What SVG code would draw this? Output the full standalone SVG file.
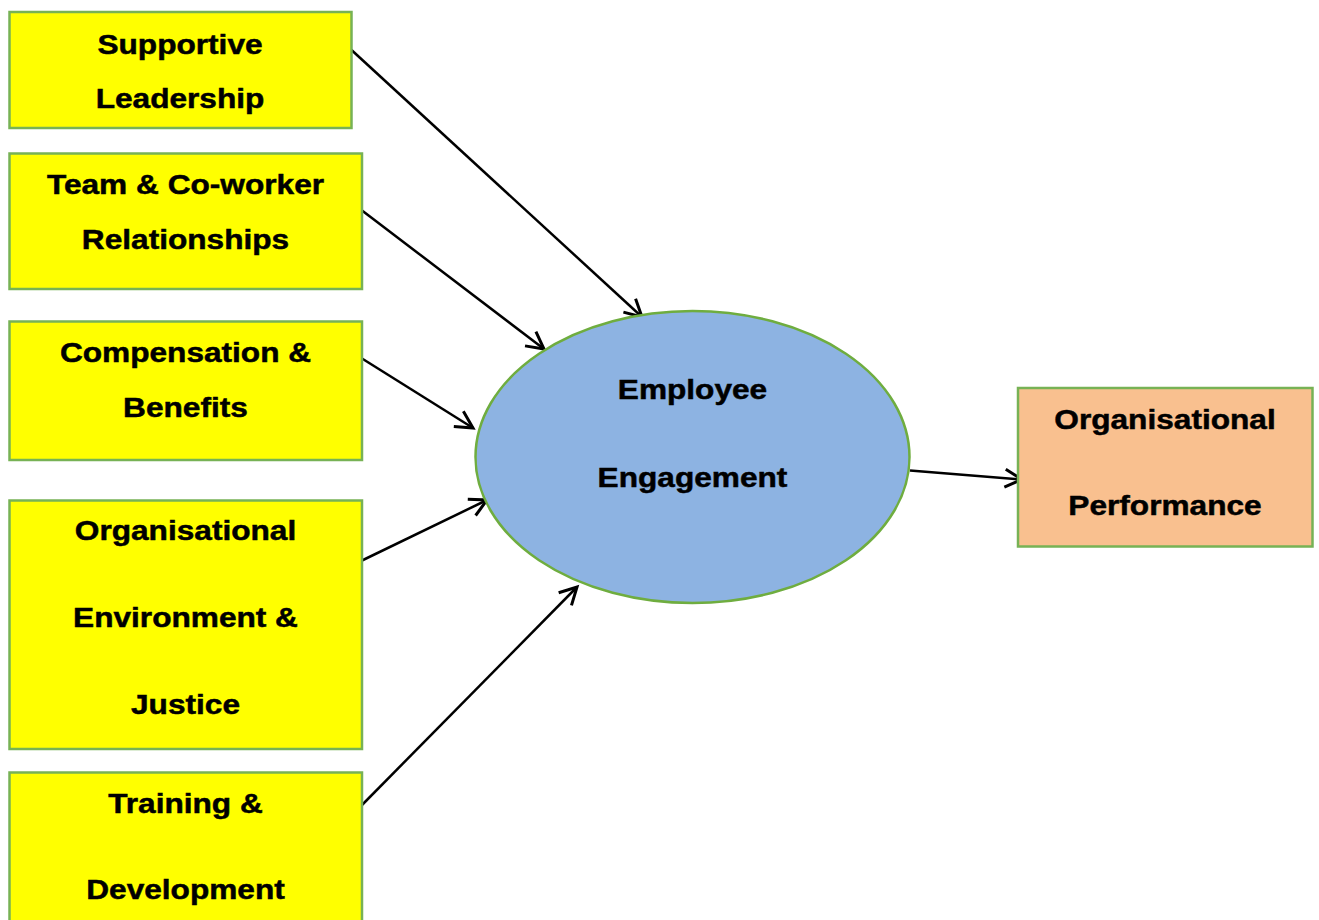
<svg xmlns="http://www.w3.org/2000/svg" width="1319" height="920" viewBox="0 0 1319 920">
  <style>
    .box { fill: #FFFF00; stroke: #77B255; stroke-width: 2.5; }
    .out { fill: #F9C08F; stroke: #77B255; stroke-width: 2.5; }
    .hub { fill: #8DB3E2; stroke: #6FAD3F; stroke-width: 2.5; }
    .lbl { font-family: "Liberation Sans", Arial, sans-serif; font-weight: bold; font-size: 28px; fill: #000; text-anchor: middle; stroke: #000; stroke-width: 0.5px; }
    .link { stroke: #000; stroke-width: 2.5; fill: none; marker-end: url(#head); }
  </style>
  <defs>
    <!-- open V arrowhead, tip at the line end -->
    <marker id="head" markerUnits="userSpaceOnUse" viewBox="0 0 24 24" markerWidth="24" markerHeight="24" refX="20" refY="12" orient="auto">
      <path d="M3,3 L20,12 L3,21" fill="none" stroke="#000" stroke-width="3" stroke-linejoin="miter"/>
    </marker>
  </defs>
  <rect width="1319" height="920" fill="#fff"/>

  <g id="connectors">
    <line class="link" x1="351.5" y1="50" x2="642" y2="317"/>
    <line class="link" x1="362" y1="210.5" x2="544" y2="349"/>
    <line class="link" x1="362" y1="358.5" x2="473" y2="428"/>
    <line class="link" x1="362" y1="560.5" x2="487" y2="500"/>
    <line class="link" x1="362" y1="805" x2="577" y2="587"/>
    <line class="link" x1="910" y1="470.5" x2="1022" y2="479.5"/>
  </g>

  <g id="supportive-leadership">
    <rect class="box" x="9.5" y="12" width="342" height="116"/>
    <text class="lbl" transform="translate(180 54) scale(1.13 1)">Supportive</text>
    <text class="lbl" transform="translate(180 108) scale(1.13 1)">Leadership</text>
  </g>

  <g id="team-relationships">
    <rect class="box" x="9.5" y="153.5" width="352.5" height="135.5"/>
    <text class="lbl" transform="translate(185.5 194) scale(1.13 1)">Team &amp; Co-worker</text>
    <text class="lbl" transform="translate(185.5 248.5) scale(1.13 1)">Relationships</text>
  </g>

  <g id="compensation-benefits">
    <rect class="box" x="9.5" y="321.5" width="352.5" height="138.5"/>
    <text class="lbl" transform="translate(185.5 362) scale(1.13 1)">Compensation &amp;</text>
    <text class="lbl" transform="translate(185.5 416.5) scale(1.13 1)">Benefits</text>
  </g>

  <g id="organisational-environment">
    <rect class="box" x="9.5" y="500.5" width="352.5" height="248.5"/>
    <text class="lbl" transform="translate(185.5 540) scale(1.13 1)">Organisational</text>
    <text class="lbl" transform="translate(185.5 627) scale(1.13 1)">Environment &amp;</text>
    <text class="lbl" transform="translate(185.5 713.5) scale(1.13 1)">Justice</text>
  </g>

  <g id="training-development">
    <rect class="box" x="9.5" y="772.5" width="352.5" height="160"/>
    <text class="lbl" transform="translate(185.5 812.5) scale(1.13 1)">Training &amp;</text>
    <text class="lbl" transform="translate(185.5 898.5) scale(1.13 1)">Development</text>
  </g>

  <g id="employee-engagement">
    <ellipse class="hub" cx="692.5" cy="457" rx="217" ry="146"/>
    <text class="lbl" transform="translate(692.5 398.5) scale(1.13 1)">Employee</text>
    <text class="lbl" transform="translate(692.5 486.5) scale(1.13 1)">Engagement</text>
  </g>

  <g id="organisational-performance">
    <rect class="out" x="1018" y="388" width="294.5" height="158.5"/>
    <text class="lbl" transform="translate(1165 428.5) scale(1.13 1)">Organisational</text>
    <text class="lbl" transform="translate(1165 515) scale(1.13 1)">Performance</text>
  </g>
</svg>
